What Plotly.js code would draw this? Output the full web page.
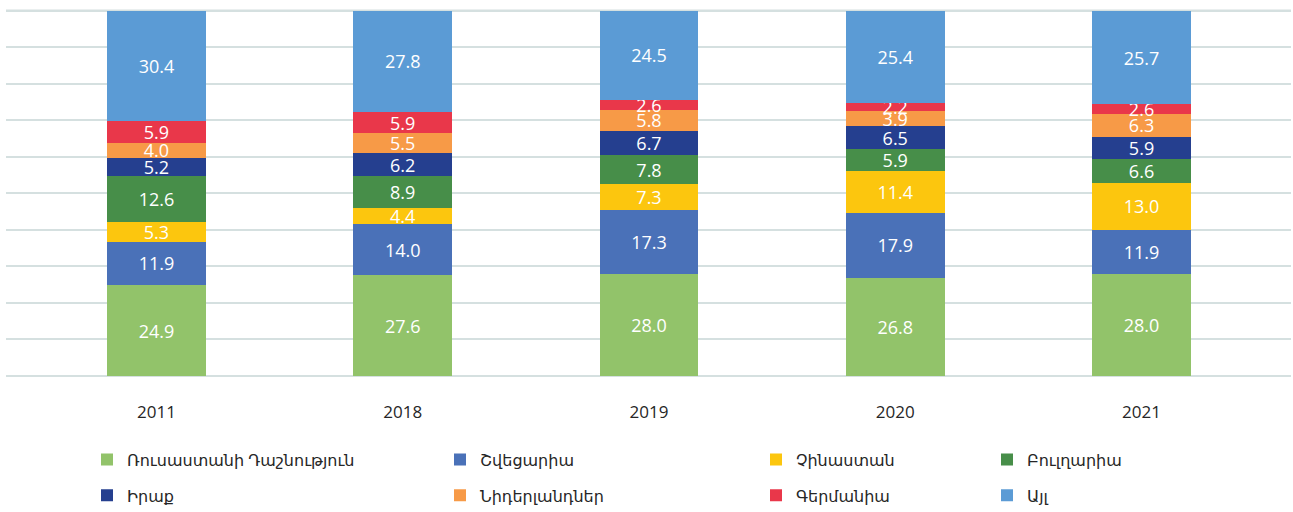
<!DOCTYPE html>
<html>
<head>
<meta charset="utf-8">
<script src="https://cdn.plot.ly/plotly-3.0.1.min.js"></script>
<style>html,body{margin:0;padding:0;background:#fff;}#chart{width:1293px;height:512px;}</style>
</head>
<body>
<div id="chart"></div>
<script>
const years = ['2011', '2018', '2019', '2020', '2021'];
const seriesNames = ['Ռուսաստանի Դաշնություն', 'Շվեցարիա', 'Չինաստան', 'Բուլղարիա', 'Իրաք', 'Նիդերլանդներ', 'Գերմանիա', 'Այլ'];
const russia = [24.9, 27.6, 28.0, 26.8, 28.0];
const switzerland = [11.9, 14.0, 17.3, 17.9, 11.9];
const china = [5.3, 4.4, 7.3, 11.4, 13.0];
const bulgaria = [12.6, 8.9, 7.8, 5.9, 6.6];
const iraq = [5.2, 6.2, 6.7, 6.5, 5.9];
const netherlands = [4.0, 5.5, 5.8, 3.9, 6.3];
const germany = [5.9, 5.9, 2.6, 2.2, 2.6];
const other = [30.4, 27.8, 24.5, 25.4, 25.7];
const axisMax = 100;

const seriesValues = [russia, switzerland, china, bulgaria, iraq, netherlands, germany, other];
const colors = ['#92c36a', '#4a71b8', '#fcc60e', '#478e49', '#253f8f', '#f79a47', '#e9374a', '#5b9bd5'];
const legendOf = ['legend', 'legend2', 'legend3', 'legend4', 'legend', 'legend2', 'legend3', 'legend4'];

const traces = seriesValues.map((vals, i) => ({
  type: 'bar',
  name: seriesNames[i],
  x: years,
  y: vals,
  text: vals.map(v => v.toFixed(1)),
  texttemplate: '%{text}',
  textposition: 'inside',
  insidetextanchor: 'middle',
  constraintext: 'none',
  textangle: 0,
  textfont: {family: 'Open Sans, DejaVu Sans, sans-serif', size: 18, color: '#ffffff'},
  marker: {color: colors[i], line: {width: 0}},
  width: 0.4,
  legend: legendOf[i],
  legendgroup: 'g' + i,
  hoverinfo: 'name+y'
}));

const legendFont = {family: 'Open Sans, DejaVu Sans, sans-serif', size: 16, color: '#262626'};
function mkLegend(x) {
  return {
    orientation: 'v', x: x, y: -0.174, xanchor: 'left', yanchor: 'top',
    traceorder: 'grouped', tracegroupgap: 12, font: legendFont,
    bgcolor: 'rgba(0,0,0,0)', itemwidth: 30, itemclick: false, itemdoubleclick: false
  };
}

const layout = {
  width: 1293, height: 512,
  margin: {l: 6, r: 2, t: 0, b: 135, autoexpand: false},
  paper_bgcolor: '#ffffff', plot_bgcolor: '#ffffff',
  barmode: 'stack',
  barnorm: 'percent',
  uniformtext: {minsize: 18, mode: 'show'},
  showlegend: true,
  xaxis: {
    type: 'category', range: [-0.611, 4.607], showgrid: false, zeroline: false, showline: false,
    ticks: '', ticklabelstandoff: 23, automargin: false,
    tickfont: {family: 'Open Sans, DejaVu Sans, sans-serif', size: 17, color: '#262626'}
  },
  yaxis: {
    range: [-0.3, 102.9], dtick: 10, tick0: 0, showgrid: true, gridcolor: '#d5e0e0', gridwidth: 2,
    zeroline: false, showline: false, showticklabels: false, ticks: '', automargin: false
  },
  shapes: [{
    type: 'line', xref: 'paper', yref: 'y', x0: 0, x1: 1, y0: axisMax, y1: axisMax,
    line: {color: '#d5e0e0', width: 2}, layer: 'below'
  }],
  legend: mkLegend((87 - 6) / 1285),
  legend2: mkLegend((440 - 6) / 1285),
  legend3: mkLegend((756 - 6) / 1285),
  legend4: mkLegend((987 - 6) / 1285),
  font: {family: 'Open Sans, DejaVu Sans, sans-serif'}
};

Plotly.newPlot('chart', traces, layout, {displayModeBar: false, staticPlot: true});
</script>
</body>
</html>
